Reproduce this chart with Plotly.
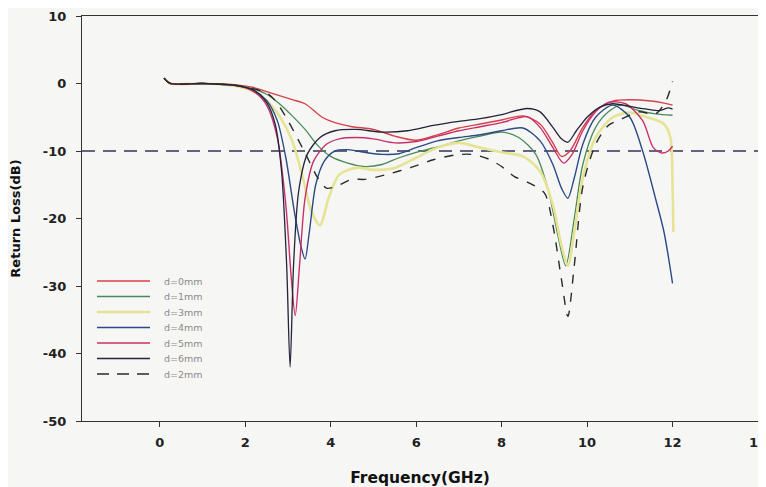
import plotly.graph_objects as go

# ---------------- data ----------------
names = ["d=0mm", "d=1mm", "d=3mm", "d=4mm", "d=5mm", "d=6mm", "d=2mm"]

x_d0 = [0.1,0.25,1.0,1.8,2.2,2.5,2.8,3.1,3.4,3.8,4.1,4.5,5.0,5.5,6.0,6.5,7.0,7.5,8.0,8.5,8.9,9.2,9.4,9.6,9.9,10.2,10.6,11.0,11.5,11.8,12.0]
y_d0 = [0.8,0,0,-0.2,-0.6,-1.2,-1.8,-2.4,-3.0,-5.0,-5.8,-6.4,-6.8,-7.8,-8.4,-7.6,-6.6,-6.0,-5.4,-4.8,-6.0,-8.8,-10.8,-10.0,-6.5,-4.0,-2.6,-2.4,-2.6,-2.9,-3.2]

x_d1 = [0.1,0.25,1.0,1.8,2.2,2.5,2.8,3.1,3.4,3.7,4.0,4.4,4.8,5.2,5.6,6.0,6.5,7.0,7.5,8.0,8.4,8.8,9.1,9.3,9.5,9.7,9.9,10.2,10.5,10.8,11.2,11.6,12.0]
y_d1 = [0.8,0,0,-0.3,-0.8,-1.6,-3.0,-4.8,-6.8,-9.2,-10.8,-11.8,-12.3,-12.0,-11.0,-10.2,-9.4,-8.5,-7.8,-7.2,-8.0,-10.5,-16,-22,-27,-20,-12,-6.5,-4.2,-3.2,-4.0,-4.5,-4.7]

x_d3 = [0.1,0.25,1.0,1.8,2.2,2.5,2.8,3.1,3.35,3.55,3.75,3.95,4.2,4.6,5.0,5.5,6.0,6.5,7.0,7.5,8.0,8.5,8.9,9.2,9.4,9.55,9.7,9.9,10.2,10.6,11.0,11.4,11.8,11.95,12.0,12.02]
y_d3 = [0.8,0,0,-0.4,-1.2,-2.5,-4.8,-8.5,-14,-19,-21,-17,-13.5,-12.5,-12.8,-12.5,-11,-9.5,-8.8,-9.5,-10.2,-10.8,-13,-18,-24,-27,-22,-14,-8,-5,-4.3,-5,-6,-8,-15,-22]

x_d4 = [0.1,0.25,1.0,1.8,2.2,2.5,2.75,2.95,3.15,3.3,3.4,3.5,3.65,3.85,4.1,4.4,4.8,5.2,5.6,6.0,6.5,7.0,7.5,8.0,8.5,8.9,9.2,9.4,9.55,9.7,9.9,10.2,10.6,11.0,11.3,11.6,11.8,12.0]
y_d4 = [0.8,0,0,-0.3,-1.0,-2.5,-5.5,-11,-19,-24,-26,-22,-15,-11.5,-10,-9.8,-10.2,-10.5,-10.4,-9.5,-8.5,-8.0,-7.6,-7.0,-6.6,-8.5,-12,-15.5,-17,-14,-9,-5,-3.2,-5,-10,-17,-22,-29.6]

x_d5 = [0.1,0.25,1.0,1.8,2.2,2.5,2.75,2.95,3.08,3.17,3.27,3.4,3.6,3.9,4.2,4.6,5.0,5.5,6.0,6.5,7.0,7.5,8.0,8.6,8.9,9.2,9.45,9.65,9.9,10.2,10.5,10.9,11.3,11.55,11.75,11.9,12.0]
y_d5 = [0.8,0,0,-0.3,-1.2,-3.2,-8,-18,-29,-34.4,-27,-17,-11.5,-9,-8.2,-8.0,-8.2,-8.8,-8.6,-7.8,-7.0,-6.4,-5.8,-4.9,-6.5,-9.5,-11.8,-10.5,-7,-4.2,-2.8,-3.0,-5.5,-9.5,-10.3,-10.0,-9.3]

x_d6 = [0.1,0.25,1.0,1.8,2.2,2.5,2.7,2.85,2.97,3.05,3.13,3.25,3.45,3.75,4.1,4.6,5.2,5.8,6.4,7.0,7.5,8.0,8.6,8.9,9.2,9.4,9.55,9.75,10.0,10.3,10.6,11.0,11.4,11.7,11.9,12.0]
y_d6 = [0.8,0,0,-0.3,-1.0,-2.8,-6,-13,-27,-42,-27,-16,-10.5,-8,-7,-6.8,-7.2,-7,-6.2,-5.6,-5.2,-4.6,-3.7,-4.2,-6.5,-8.2,-8.7,-7,-5,-3.5,-3.0,-3.4,-3.8,-4.0,-3.6,-3.8]

x_d2 = [0.1,0.25,1.0,1.8,2.2,2.5,2.7,3.0,3.4,3.7,3.9,4.1,4.5,4.8,5.3,5.9,6.4,6.9,7.3,7.7,8.0,8.3,8.6,9.0,9.2,9.4,9.55,9.7,9.9,10.2,10.5,10.8,11.2,11.6,11.85,12.0]
y_d2 = [0.8,0,0,-0.3,-0.8,-1.4,-2.5,-5.5,-10.3,-14,-15.5,-15.3,-14.2,-14.2,-13.5,-12.4,-11.3,-10.6,-10.5,-11.2,-12.3,-13.8,-14.6,-16.2,-21,-29,-34.5,-27,-15.3,-9,-6.2,-5.3,-4.2,-4.5,-2.5,0.3]

ref_level = -10
x_ticks = [0, 2, 4, 6, 8, 10, 12, 14]
y_ticks = [10, 0, -10, -20, -30, -40, -50]

# ---------------- styles ----------------
colors = ["#d8404c", "#4a8a5a", "#e6e494", "#2c4a86", "#c8306a", "#24243a", "#2a2a2a"]
widths = [1.4, 1.3, 2.6, 1.4, 1.4, 1.3, 1.4]
dashes = ["solid"] * 6 + ["dash"]
xs_all = [x_d0, x_d1, x_d3, x_d4, x_d5, x_d6, x_d2]
ys_all = [y_d0, y_d1, y_d3, y_d4, y_d5, y_d6, y_d2]

FONT = "DejaVu Sans, Liberation Sans, Arial, sans-serif"

fig = go.Figure()
for name, xs, ys, col, w, dash in zip(names, xs_all, ys_all, colors, widths, dashes):
    fig.add_trace(go.Scatter(
        x=xs, y=ys, name=name, mode="lines", showlegend=False,
        line=dict(color=col, width=w, dash=dash, shape="spline", smoothing=0.8),
    ))

# reference -10 dB line
fig.add_shape(type="line", xref="paper", x0=0, x1=1, yref="y", y0=ref_level, y1=ref_level,
              line=dict(color="#34345a", width=1.4, dash="13px,8px"), layer="below")

# hand-built legend (paper coordinates); page has an 8px body margin
plot_top, plot_bottom = 16, 421
leg_y0, leg_step = 281, 15.5
for i, (name, col, w, dash) in enumerate(zip(names, colors, widths, dashes)):
    py = leg_y0 + i * leg_step
    yp = (plot_bottom - py) / (plot_bottom - plot_top)
    fig.add_shape(type="line", xref="paper", yref="paper", x0=0.0222, x1=0.1006, y0=yp, y1=yp,
                  line=dict(color=col, width=w, dash=("12px,8px" if dash == "dash" else "solid")))
    fig.add_annotation(xref="paper", yref="paper", x=0.1183, y=yp, text=name, showarrow=False,
                       xanchor="left", yanchor="middle",
                       font=dict(family=FONT, size=9.5, color="#8a8a8a"))

tickfont = dict(family=FONT, size=13, color="#222", weight="bold")

fig.update_layout(
    width=758, height=479,
    margin=dict(l=74, r=8, t=8, b=66, autoexpand=False),
    paper_bgcolor="#f6f6f4", plot_bgcolor="#f6f6f4",
    showlegend=False,
    xaxis=dict(
        range=[-1.82, 14], tickvals=x_ticks, ticktext=[str(v) for v in x_ticks],
        showgrid=False, zeroline=False, showline=True, mirror=True, automargin=False,
        linecolor="#333", linewidth=1.3, ticks="outside", ticklen=5, tickcolor="#333",
        tickfont=tickfont, ticklabelstandoff=4, ticklabeloverflow="allow",
        title=dict(text="Frequency(GHz)", standoff=26,
                   font=dict(family=FONT, size=15.5, color="#111", weight="bold")),
    ),
    yaxis=dict(
        range=[-50, 10], tickvals=y_ticks, ticktext=[str(v) for v in y_ticks],
        showgrid=False, zeroline=False, showline=True, mirror=True, automargin=False,
        linecolor="#333", linewidth=1.3, ticks="outside", ticklen=5, tickcolor="#333",
        tickfont=tickfont, ticklabelstandoff=7,
        title=dict(text="Return Loss(dB)", standoff=24,
                   font=dict(family=FONT, size=13, color="#111", weight="bold")),
    ),
)

fig.write_html("out.html")
